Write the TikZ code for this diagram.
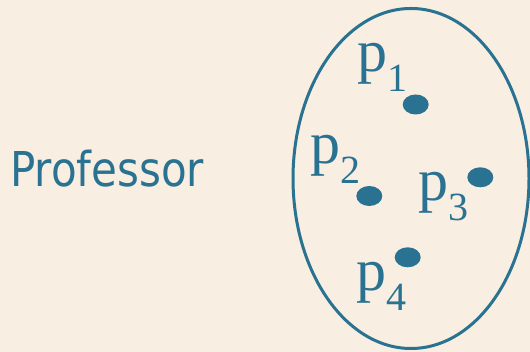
\documentclass[tikz,border=0pt]{standalone}
\usepackage{fontspec}
\setmainfont{Liberation Serif}
\newfontfamily\pserif{Liberation Serif}
\newfontfamily\labelsans{DejaVu Sans}
\definecolor{teal}{RGB}{41,114,145}
\definecolor{bgc}{RGB}{248,238,225}
\begin{document}
\begin{tikzpicture}[x=1pt,y=1pt,
  lbl/.style={anchor=base west, inner sep=0pt, text=teal, font=\pserif\fontsize{60}{60}\selectfont},
]
\fill[bgc] (0,0) rectangle (530,352);
\useasboundingbox (0,0) rectangle (530,352);
\newcommand{\psub}[1]{p\raisebox{-20pt}{\fontsize{40}{40}\selectfont #1}}
\node[anchor=base west, inner sep=0pt, text=teal] (prof) at (10,165.3)
  {\scalebox{0.875}[1]{\labelsans\fontsize{48}{48}\selectfont Professor}};
\draw[teal, line width=3pt] (411,173.5) ellipse [x radius=118, y radius=170];
\node[lbl] (l1) at (357,280) {\psub{1}};
\node[lbl] (l2) at (310,188.3) {\psub{2}};
\node[lbl] (l3) at (418.3,151.7) {\psub{3}};
\node[lbl] (l4) at (356.7,61.7) {\psub{4}};
\fill[teal] (415.7,247.5) ellipse [x radius=13, y radius=10];
\fill[teal] (369.3,156) ellipse [x radius=13, y radius=10];
\fill[teal] (480.3,174.7) ellipse [x radius=13, y radius=10];
\fill[teal] (407.7,94.7) ellipse [x radius=13, y radius=10];
\end{tikzpicture}
\end{document}
